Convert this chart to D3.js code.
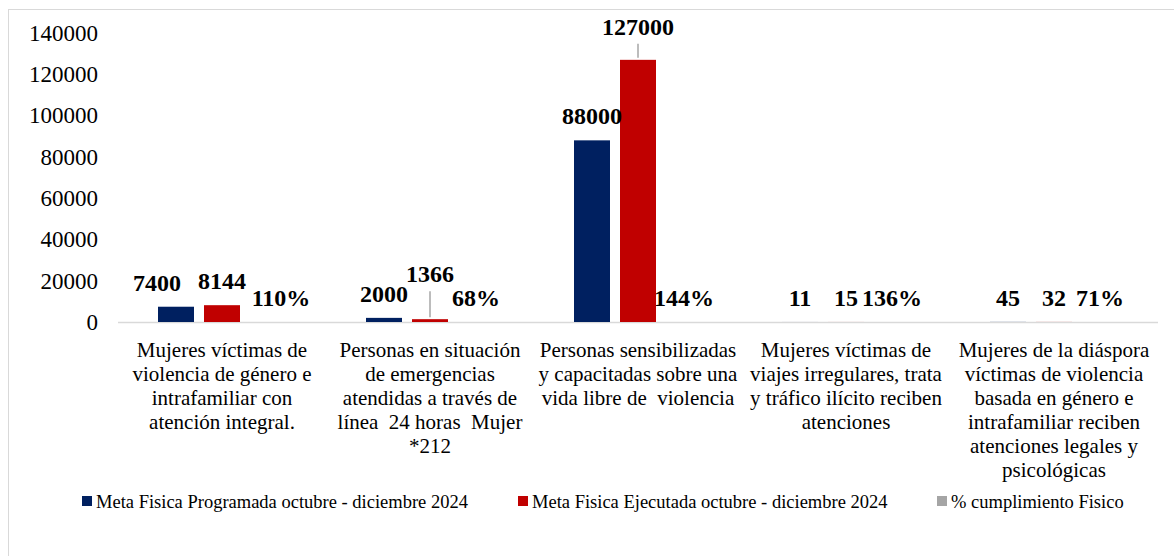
<!DOCTYPE html>
<html>
<head>
<meta charset="utf-8">
<script src="https://cdn.jsdelivr.net/npm/d3@7"></script>
<style>
  body { margin: 0; background: #fff; }
  svg, svg text { font-family: "Liberation Serif", "Times New Roman", serif !important; }
  text { white-space: pre; }
</style>
</head>
<body>
<script>
// categories (line breaks as in the original chart)
const categories = [
    ["Mujeres víctimas de", "violencia de género e", "intrafamiliar con", "atención integral."],
    ["Personas en situación", "de emergencias", "atendidas a través de", "línea  24 horas  Mujer", "*212"],
    ["Personas sensibilizadas", "y capacitadas sobre una", "vida libre de  violencia"],
    ["Mujeres víctimas de", "viajes irregulares, trata", "y tráfico ilícito reciben", "atenciones"],
    ["Mujeres de la diáspora", "víctimas de violencia", "basada en género e", "intrafamiliar reciben", "atenciones legales y", "psicológicas"]
];
const seriesNames = [
    "Meta Fisica Programada octubre - diciembre 2024",
    "Meta Fisica Ejecutada octubre - diciembre 2024",
    "% cumplimiento Fisico"
];
const programada = [7400, 2000, 88000, 11, 45];
const ejecutada = [8144, 1366, 127000, 15, 32];
const cumplimiento = [1.10, 0.68, 1.44, 1.36, 0.71];
const yTicks = [0, 20000, 40000, 60000, 80000, 100000, 120000, 140000];

const colors = ["#002060", "#C00000", "#A5A5A5"];

let width = 1174, height = 556;

let svg = d3.select("body").append("svg")
    .attr("width", width)
    .attr("height", height);

// chart frame
svg.append("rect")
    .attr("x", 8.5).attr("y", 9.5)
    .attr("width", 1300).attr("height", 700)
    .attr("fill", "#fff")
    .attr("stroke", "#d9d9d9");

let x = d3.scaleBand()
    .domain(d3.range(categories.length))
    .range([118, 1158]);

let xs = d3.scaleBand()
    .domain([0, 1, 2])
    .range([40, 168])
    .paddingInner(10 / 46);

let y = d3.scaleLinear()
    .domain([0, 140000])
    .range([322, 33]);

// y axis (labels only)
let yAxis = svg.append("g")
    .attr("transform", "translate(104,0)")
    .call(d3.axisLeft(y).tickValues(yTicks).tickSize(0).tickPadding(6).tickFormat(d3.format("d")));
yAxis.select(".domain").remove();
yAxis.attr("font-family", null).attr("font-size", null);
yAxis.selectAll("text")
    .style("font-size", "23px")
    .attr("fill", "#000");

// baseline
svg.append("line")
    .attr("x1", 118).attr("x2", 1158)
    .attr("y1", y(0) + 0.5).attr("y2", y(0) + 0.5)
    .attr("stroke", "#d9d9d9")
    .attr("stroke-width", 1.5);

let rows = [programada, ejecutada, cumplimiento];
let bars = [];
rows.forEach((vals, s) => {
    vals.forEach((v, i) => {
        bars.push({ s: s, i: i, v: v });
    });
});

svg.append("g").selectAll("rect")
    .data(bars)
    .enter().append("rect")
    .attr("x", d => x(d.i) + xs(d.s))
    .attr("width", xs.bandwidth())
    .attr("y", d => y(d.v))
    .attr("height", d => y(0) - y(d.v))
    .attr("fill", d => colors[d.s]);

// labels moved away from their bar in the original (leader line = lifted)
let leader = { "1-1": 37, "1-2": 25 };
let nudge = { "0-0": -19, "2-0": 13 };

let fmtPct = d3.format(".0%");
let labels = svg.append("g");
bars.forEach(d => {
    let key = d.s + "-" + d.i;
    let cx = x(d.i) + xs(d.s) + xs.bandwidth() / 2 + (nudge[key] || 0);
    let top = y(d.v);
    let lift = leader[key];
    if (lift) {
        labels.append("line")
            .attr("x1", cx).attr("x2", cx)
            .attr("y1", top - 2).attr("y2", top - lift + 9)
            .attr("stroke", "#a6a6a6")
            .attr("stroke-width", 1.5);
    }
    labels.append("text")
        .attr("x", cx)
        .attr("y", top - (lift || 16))
        .attr("text-anchor", "middle")
        .style("font-weight", "bold")
        .style("font-size", "24px")
        .text(d.s === 2 ? fmtPct(d.v) : d.v);
});

// category labels
let cats = svg.append("g");
categories.forEach((lines, i) => {
    let t = cats.append("text")
        .attr("text-anchor", "middle")
        .style("font-size", "21px")
        .attr("fill", "#000");
    lines.forEach((ln, k) => {
        t.append("tspan")
            .attr("x", x(i) + x.bandwidth() / 2)
            .attr("y", 357 + k * 24)
            .text(ln);
    });
});

// legend
let legendX = [82, 518, 937];
let legend = svg.append("g");
seriesNames.forEach((name, s) => {
    legend.append("rect")
        .attr("x", legendX[s]).attr("y", 496)
        .attr("width", 10).attr("height", 10)
        .attr("fill", colors[s]);
    legend.append("text")
        .attr("x", legendX[s] + 14)
        .attr("y", 508)
        .style("font-size", "18.5px")
        .attr("fill", "#000")
        .text(name);
});
</script>
</body>
</html>
